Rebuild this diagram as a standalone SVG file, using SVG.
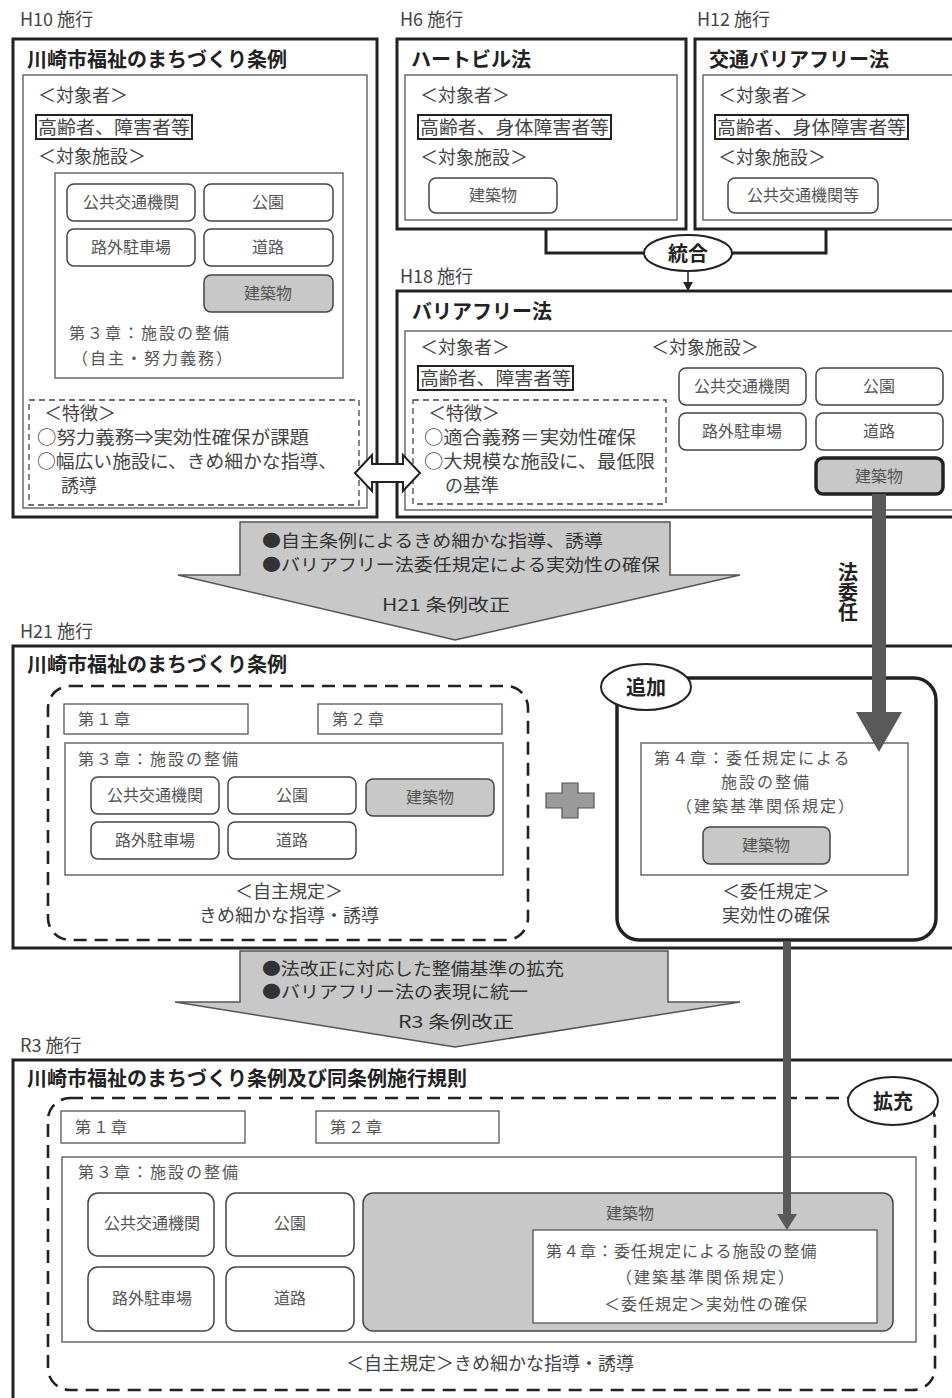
<svg xmlns="http://www.w3.org/2000/svg" width="952" height="1398" viewBox="0 0 952 1398">
<defs>
<style>
text{font-family:"Noto Sans CJK JP","Noto Sans",sans-serif;fill:#333;}
.era{font-size:18px;fill:#444;}
.title{font-size:20px;font-weight:bold;fill:#222;}
.lbl{font-size:18px;fill:#444;}
.btn{fill:#fff;stroke:#444;stroke-width:1.5;}
.btng{fill:#c8c8c8;stroke:#444;stroke-width:1.5;}
.btxt{font-size:16px;fill:#555;text-anchor:middle;}
.outer{fill:#fff;stroke:#222;stroke-width:3;}
.inner{fill:none;stroke:#555;stroke-width:1.3;}
.dash{fill:none;stroke:#444;stroke-width:1.3;stroke-dasharray:6 4;}
.bdash{fill:none;stroke:#222;stroke-width:2.6;stroke-dasharray:13 8;}
.tag{fill:#fff;stroke:#222;stroke-width:2;}
.tgt{font-size:18px;fill:#444;}
.feat{font-size:18px;fill:#444;}
.ser{font-size:16px;fill:#555;letter-spacing:2px;}
.big{fill:#c8c8c8;stroke:#555;stroke-width:1.5;}
.btx{font-size:17px;fill:#333;}
.ctr{text-anchor:middle;}
.thick{fill:#595959;}
.bold{font-size:20px;font-weight:bold;fill:#222;}
</style>
</defs>

<!-- H10 -->
<g id="h10">
<text class="era" x="20" y="26">H10 施行</text>
<rect class="outer" x="13" y="39" width="364" height="478"/>
<text class="title" x="27" y="67">川崎市福祉のまちづくり条例</text>
<rect class="inner" x="23" y="75" width="344" height="433"/>
<text class="lbl" x="38" y="102">＜対象者＞</text>
<rect x="36" y="115" width="156" height="24" fill="#fff" stroke="#222" stroke-width="2"/>
<text class="tgt" x="38" y="134" textLength="152" lengthAdjust="spacingAndGlyphs">高齢者、障害者等</text>
<text class="lbl" x="38" y="163">＜対象施設＞</text>
<rect class="inner" x="55" y="173" width="288" height="205"/>
<rect class="btn" x="67" y="184" width="128" height="37" rx="7"/><text class="btxt" x="131" y="208">公共交通機関</text>
<rect class="btn" x="204" y="184" width="129" height="37" rx="7"/><text class="btxt" x="268" y="208">公園</text>
<rect class="btn" x="67" y="229" width="128" height="37" rx="7"/><text class="btxt" x="131" y="253">路外駐車場</text>
<rect class="btn" x="204" y="229" width="129" height="37" rx="7"/><text class="btxt" x="268" y="253">道路</text>
<rect class="btng" x="204" y="275" width="129" height="37" rx="7"/><text class="btxt" x="268" y="299">建築物</text>
<text class="ser" x="69" y="339">第３章：施設の整備</text>
<text class="ser" x="72" y="364">（自主・努力義務）</text>
<rect class="dash" x="29" y="400" width="330" height="105"/>
<text class="feat" x="44" y="420">＜特徴＞</text>
<text class="feat" x="37" y="444" textLength="272" lengthAdjust="spacingAndGlyphs">○努力義務⇒実効性確保が課題</text>
<text class="feat" x="37" y="468" textLength="300" lengthAdjust="spacingAndGlyphs">○幅広い施設に、きめ細かな指導、</text>
<text class="feat" x="61" y="492">誘導</text>
</g>

<!-- H6 -->
<g id="h6">
<text class="era" x="400" y="26">H6 施行</text>
<rect class="outer" x="397" y="39" width="289" height="190"/>
<text class="title" x="411" y="67">ハートビル法</text>
<rect class="inner" x="405" y="75" width="272" height="145"/>
<text class="lbl" x="420" y="102">＜対象者＞</text>
<rect x="418" y="115" width="193" height="24" fill="#fff" stroke="#222" stroke-width="2"/>
<text class="tgt" x="420" y="134" textLength="189" lengthAdjust="spacingAndGlyphs">高齢者、身体障害者等</text>
<text class="lbl" x="420" y="164">＜対象施設＞</text>
<rect class="btn" x="429" y="178" width="128" height="35" rx="7"/><text class="btxt" x="493" y="201">建築物</text>
</g>

<!-- H12 -->
<g id="h12">
<text class="era" x="697" y="26">H12 施行</text>
<rect class="outer" x="695" y="39" width="270" height="190"/>
<text class="title" x="709" y="67">交通バリアフリー法</text>
<rect class="inner" x="703" y="75" width="260" height="145"/>
<text class="lbl" x="718" y="102">＜対象者＞</text>
<rect x="715" y="115" width="193" height="24" fill="#fff" stroke="#222" stroke-width="2"/>
<text class="tgt" x="717" y="134" textLength="189" lengthAdjust="spacingAndGlyphs">高齢者、身体障害者等</text>
<text class="lbl" x="718" y="164">＜対象施設＞</text>
<rect class="btn" x="728" y="178" width="150" height="35" rx="7"/><text class="btxt" x="803" y="201">公共交通機関等</text>
</g>

<!-- connectors -->
<g id="connectors">
<polyline points="546,229 546,253 645,253" fill="none" stroke="#222" stroke-width="3"/>
<polyline points="826,229 826,253 731,253" fill="none" stroke="#222" stroke-width="3"/>
<line x1="688" y1="270" x2="688" y2="283" stroke="#222" stroke-width="1.5"/>
<polygon points="683,282 693,282 688,291" fill="#222"/>
</g>

<g id="tougou">
<ellipse class="tag" cx="688" cy="253" rx="44" ry="18"/>
<text x="688" y="261" class="ctr bold">統合</text>
</g>

<!-- H18 -->
<g id="h18">
<text class="era" x="400" y="283">H18 施行</text>
<rect class="outer" x="397" y="291" width="570" height="226"/>
<text class="title" x="412" y="319">バリアフリー法</text>
<rect class="inner" x="405" y="331" width="560" height="179"/>
<text class="lbl" x="420" y="354">＜対象者＞</text>
<text class="lbl" x="651" y="354">＜対象施設＞</text>
<rect x="418" y="366" width="155" height="24" fill="#fff" stroke="#222" stroke-width="2"/>
<text class="tgt" x="420" y="385" textLength="151" lengthAdjust="spacingAndGlyphs">高齢者、障害者等</text>
<rect class="dash" x="413" y="400" width="253" height="104"/>
<text class="feat" x="428" y="420">＜特徴＞</text>
<text class="feat" x="424" y="444" textLength="212" lengthAdjust="spacingAndGlyphs">○適合義務＝実効性確保</text>
<text class="feat" x="424" y="468" textLength="231" lengthAdjust="spacingAndGlyphs">○大規模な施設に、最低限</text>
<text class="feat" x="445" y="492">の基準</text>
<rect class="btn" x="679" y="368" width="127" height="37" rx="7"/><text class="btxt" x="742" y="392">公共交通機関</text>
<rect class="btn" x="816" y="368" width="127" height="37" rx="7"/><text class="btxt" x="879" y="392">公園</text>
<rect class="btn" x="679" y="413" width="127" height="37" rx="7"/><text class="btxt" x="742" y="437">路外駐車場</text>
<rect class="btn" x="816" y="413" width="127" height="37" rx="7"/><text class="btxt" x="879" y="437">道路</text>
<rect x="816" y="458" width="127" height="36" rx="7" fill="#c8c8c8" stroke="#222" stroke-width="3.5"/><text class="btxt" x="879" y="482">建築物</text>
</g>

<!-- first transition arrow -->
<g id="arrow-h21">
<polygon class="big" points="240,522 670,522 670,575 740,575 455,640 178,575 240,575"/>
<text class="btx" x="262" y="547" textLength="341" lengthAdjust="spacingAndGlyphs">●自主条例によるきめ細かな指導、誘導</text>
<text class="btx" x="262" y="571" textLength="398" lengthAdjust="spacingAndGlyphs">●バリアフリー法委任規定による実効性の確保</text>
<text class="btx ctr" x="446" y="611" textLength="128" lengthAdjust="spacingAndGlyphs">H21 条例改正</text>
</g>

<!-- H21 -->
<g id="h21">
<text class="era" x="20" y="638">H21 施行</text>
<rect class="outer" x="13" y="646" width="954" height="302"/>
<text class="title" x="27" y="672">川崎市福祉のまちづくり条例</text>
<rect class="bdash" x="48" y="686" width="480" height="254" rx="22"/>
<rect class="inner" x="64" y="704" width="184" height="30"/>
<text class="ser" x="78" y="725">第１章</text>
<rect class="inner" x="318" y="704" width="184" height="30"/>
<text class="ser" x="332" y="725">第２章</text>
<rect class="inner" x="65" y="743" width="438" height="132"/>
<text class="ser" x="78" y="765">第３章：施設の整備</text>
<rect class="btn" x="91" y="777" width="128" height="37" rx="7"/><text class="btxt" x="155" y="801">公共交通機関</text>
<rect class="btn" x="228" y="777" width="128" height="37" rx="7"/><text class="btxt" x="292" y="801">公園</text>
<rect class="btng" x="366" y="779" width="128" height="37" rx="7"/><text class="btxt" x="430" y="803">建築物</text>
<rect class="btn" x="91" y="822" width="128" height="37" rx="7"/><text class="btxt" x="155" y="846">路外駐車場</text>
<rect class="btn" x="228" y="822" width="128" height="37" rx="7"/><text class="btxt" x="292" y="846">道路</text>
<text class="feat ctr" x="289" y="898">＜自主規定＞</text>
<text class="feat ctr" x="289" y="922">きめ細かな指導・誘導</text>
<polygon points="562,783 578,783 578,793 594,793 594,808 578,808 578,818 562,818 562,808 546,808 546,793 562,793" fill="#9a9a9a" stroke="#555" stroke-width="1.2"/>
</g>

<g id="tsuika">
<rect x="617" y="678" width="319" height="262" rx="22" fill="#fff" stroke="#222" stroke-width="3.5"/>
<ellipse class="tag" cx="646" cy="687" rx="45" ry="23"/>
<text x="646" y="695" class="ctr bold">追加</text>
<rect class="inner" x="641" y="743" width="267" height="132"/>
<text class="ser" x="654" y="764">第４章：委任規定による</text>
<text class="ser ctr" x="766" y="788">施設の整備</text>
<text class="ser ctr" x="766" y="812">（建築基準関係規定）</text>
<rect class="btng" x="703" y="827" width="127" height="37" rx="7"/><text class="btxt" x="766" y="851">建築物</text>
<text class="feat ctr" x="776" y="898">＜委任規定＞</text>
<text class="feat ctr" x="776" y="922">実効性の確保</text>
</g>

<!-- second transition arrow -->
<g id="arrow-r3">
<polygon class="big" points="240,951 668,951 668,1002 740,1002 455,1047 175,1002 240,1002"/>
<text class="btx" x="262" y="975" textLength="302" lengthAdjust="spacingAndGlyphs">●法改正に対応した整備基準の拡充</text>
<text class="btx" x="262" y="998" textLength="266" lengthAdjust="spacingAndGlyphs">●バリアフリー法の表現に統一</text>
<text class="btx ctr" x="456" y="1028" textLength="116" lengthAdjust="spacingAndGlyphs">R3 条例改正</text>
</g>

<!-- R3 -->
<g id="r3">
<text class="era" x="20" y="1052">R3 施行</text>
<rect class="outer" x="13" y="1060" width="954" height="345"/>
<text class="title" x="27" y="1086">川崎市福祉のまちづくり条例及び同条例施行規則</text>
<rect class="bdash" x="48" y="1098" width="887" height="292" rx="22"/>
<rect class="inner" x="61" y="1111" width="184" height="32"/>
<text class="ser" x="75" y="1133">第１章</text>
<rect class="inner" x="316" y="1111" width="183" height="32"/>
<text class="ser" x="330" y="1133">第２章</text>
<rect class="inner" x="62" y="1157" width="854" height="185"/>
<text class="ser" x="78" y="1178">第３章：施設の整備</text>
<rect class="btn" x="88" y="1193" width="126" height="63" rx="10"/><text class="btxt" x="152" y="1229">公共交通機関</text>
<rect class="btn" x="226" y="1193" width="128" height="63" rx="10"/><text class="btxt" x="290" y="1229">公園</text>
<rect class="btn" x="88" y="1267" width="126" height="64" rx="10"/><text class="btxt" x="152" y="1304">路外駐車場</text>
<rect class="btn" x="226" y="1267" width="128" height="64" rx="10"/><text class="btxt" x="290" y="1304">道路</text>
<rect class="btng" x="363" y="1193" width="530" height="138" rx="10"/>
<text class="btxt" x="630" y="1219">建築物</text>
<rect x="533" y="1230" width="344" height="93" fill="#fff" stroke="#555" stroke-width="1.3"/>
<text class="ser" x="546" y="1257" style="letter-spacing:1px">第４章：委任規定による施設の整備</text>
<text class="ser ctr" x="706" y="1283">（建築基準関係規定）</text>
<text class="ser ctr" x="706" y="1310" style="letter-spacing:1px">＜委任規定＞実効性の確保</text>
<text class="feat ctr" x="490" y="1370">＜自主規定＞きめ細かな指導・誘導</text>
<ellipse class="tag" cx="893" cy="1101" rx="45" ry="24"/>
<text x="893" y="1109" class="ctr bold">拡充</text>
</g>

<!-- thick delegation arrows and double arrow -->
<g id="delegation">
<rect class="thick" x="872" y="494" width="14" height="220"/>
<polygon class="thick" points="856,712 902,712 879,752"/>
<text x="848" y="562" class="bold" writing-mode="vertical-rl" style="letter-spacing:0px">法委任</text>
<rect class="thick" x="783" y="941" width="8" height="276"/>
<polygon class="thick" points="777,1214 797,1214 787,1230"/>
<polygon points="355,473 372,455 372,464 403,464 403,455 420,473 403,491 403,482 372,482 372,491" fill="#fff" stroke="#222" stroke-width="2"/>
</g>
</svg>
